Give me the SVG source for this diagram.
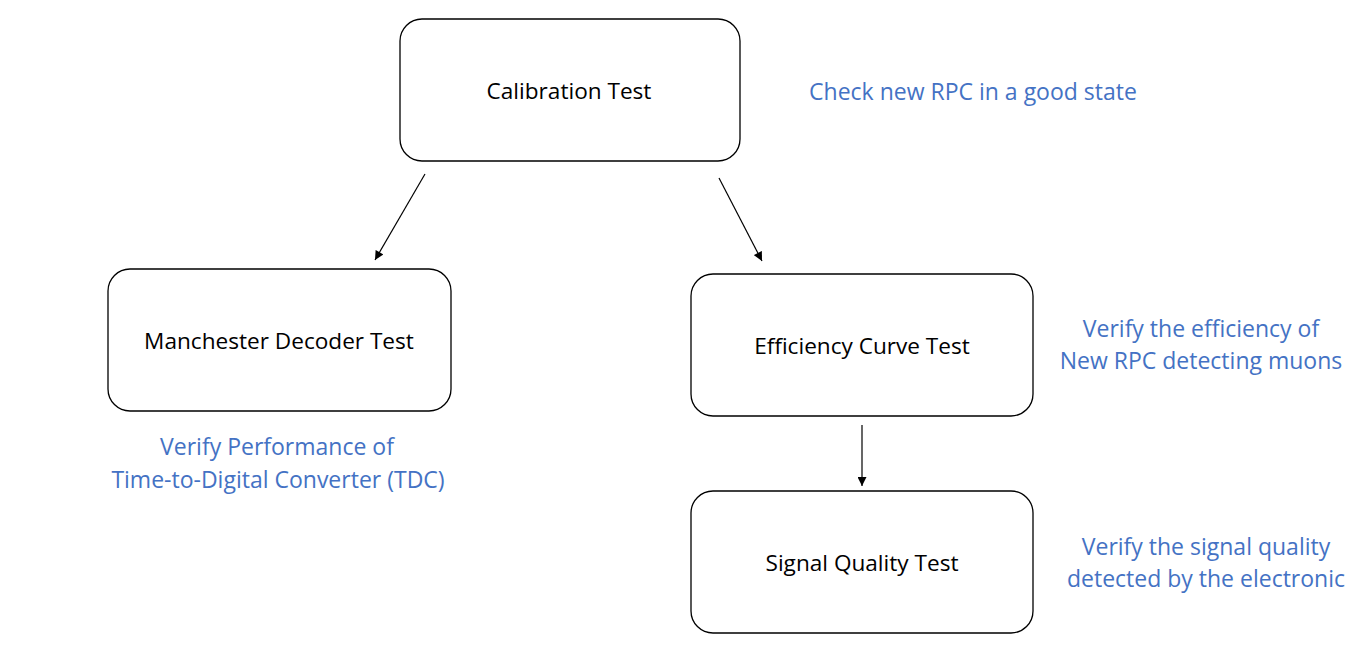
<svg xmlns="http://www.w3.org/2000/svg" width="1357" height="646" viewBox="0 0 1357 646">
<style>
.box{fill:#fff;stroke:#000;stroke-width:1.3}
.t{font-family:"Open Sans","Liberation Sans",Arial,sans-serif;font-size:22.6px;fill:#000;text-anchor:middle}
.n{font-family:"Open Sans","Liberation Sans",Arial,sans-serif;font-size:23px;fill:#4472C4;text-anchor:middle}
.c{stroke:#000;stroke-width:1.2;fill:none;marker-end:url(#ah)}
</style>
<defs>
<marker id="ah" viewBox="0 0 10 10" refX="10" refY="5" markerWidth="10" markerHeight="9" markerUnits="userSpaceOnUse" orient="auto">
<path d="M0,0 L10,5 L0,10 z" fill="#000"/>
</marker>
</defs>
<rect width="1357" height="646" fill="#fff"/>
<g id="connectors">
<line class="c" x1="425" y1="174" x2="375" y2="260"/>
<line class="c" x1="719" y1="178" x2="762" y2="261"/>
<line class="c" x1="862" y1="425" x2="862" y2="486"/>
</g>
<g id="calibration">
<rect class="box" x="400" y="19" width="340" height="142" rx="22"/>
<text class="t" x="569" y="99">Calibration Test</text>
</g>
<g id="manchester">
<rect class="box" x="108" y="269" width="343" height="142" rx="22"/>
<text class="t" x="279" y="349">Manchester Decoder Test</text>
</g>
<g id="efficiency">
<rect class="box" x="691" y="274" width="342" height="142" rx="22"/>
<text class="t" x="862" y="354">Efficiency Curve Test</text>
</g>
<g id="signal">
<rect class="box" x="691" y="491" width="342" height="142" rx="22"/>
<text class="t" x="862" y="571">Signal Quality Test</text>
</g>
<g id="notes">
<text class="n" x="973" y="100">Check new RPC in a good state</text>
<text class="n" x="277" y="455">Verify Performance of</text>
<text class="n" x="278" y="488">Time-to-Digital Converter (TDC)</text>
<text class="n" x="1201" y="337">Verify the efficiency of</text>
<text class="n" x="1201" y="369">New RPC detecting muons</text>
<text class="n" x="1206" y="555">Verify the signal quality</text>
<text class="n" x="1206" y="587">detected by the electronic</text>
</g>
</svg>
